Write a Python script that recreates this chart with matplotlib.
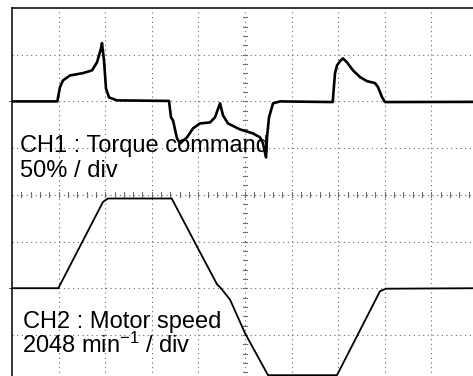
import matplotlib
matplotlib.use("Agg")
import matplotlib.pyplot as plt
import numpy as np

plt.rcParams["font.family"] = ["Liberation Sans", "DejaVu Sans"]
plt.rcParams["mathtext.fontset"] = "custom"
plt.rcParams["mathtext.rm"] = "Liberation Sans"
plt.rcParams["mathtext.it"] = "Liberation Sans"

# scope screen: 10 x 8 divisions
N_XDIV = 10
N_YDIV = 8
CH1_ZERO_DIV = 6.0      # torque zero level (divisions from bottom)
CH2_ZERO_DIV = 2.0      # speed zero level
CH1_SCALE = 50.0        # % per div
CH2_SCALE = 2048.0      # min^-1 per div

# CH1 torque command trace (time in div, torque in %)
torque_t = [0.0, 0.972, 1.030, 1.094, 1.245, 1.524, 1.717, 1.824, 1.910, 1.931,
            1.974, 2.017, 2.082, 2.253, 3.369, 3.412, 3.455, 3.541, 3.605, 3.755,
            3.884, 4.034, 4.249, 4.356, 4.464, 4.528, 4.635, 4.893, 5.172, 5.322,
            5.386, 5.451, 5.472, 5.515, 5.601, 5.751, 6.882, 6.931, 6.974, 7.039,
            7.103, 7.189, 7.318, 7.468, 7.618, 7.790, 7.854, 7.940, 8.004, 10.0]
torque_pct = [0.0, 0.0, 15.3, 22.5, 27.8, 30.3, 33.2, 41.8, 56.7, 62.4,
              43.9, 13.9, 4.3, 1.1, 0.5, -17.1, -20.3, -39.6, -45.0, -38.5,
              -28.9, -23.6, -22.5, -17.1, -2.1, -15.0, -23.6, -30.0, -34.3, -38.5,
              -45.0, -60.0, -38.5, -17.1, -2.1, 0.0, -0.7, 30.0, 38.5, 43.1,
              46.0, 41.8, 33.2, 26.0, 21.7, 19.6, 15.3, 4.6, -0.7, -0.5]

# CH2 motor speed trace (time in div, speed in min^-1)
speed_t = [0.0, 0.994, 1.953, 2.060, 3.427, 4.034, 4.399, 4.464, 4.678, 5.0,
           5.494, 6.974, 7.897, 8.026, 10.0]
speed_rpm = [0.0, 0.0, 3785.0, 3934.0, 3934.0, 1579.0, 175.0, 44.0, -496.0, -1973.0,
             -3815.0, -3815.0, -132.0, -22.0, 0.0]

fig = plt.figure(figsize=(4.73, 3.76), dpi=100)
ax = fig.add_axes([12 / 473, -0.0149, 466 / 473, 0.99362])
ax.set_xlim(0, N_XDIV)
ax.set_ylim(0, N_YDIV)
ax.set_xticks([])
ax.set_yticks([])
for side in ("right", "bottom"):
    ax.spines[side].set_visible(False)
for side in ("top", "left"):
    ax.spines[side].set_linewidth(1.1)
    ax.spines[side].set_color("black")

# graticule
grid_kw = dict(color="#6a6a6a", linewidth=0.8, linestyle=(0, (1, 3.2)), zorder=1)
for gx in range(1, N_XDIV):
    ax.axvline(gx, **grid_kw)
for gy in range(1, N_YDIV):
    ax.axhline(gy, **grid_kw)

# minor ticks on the centre crosshair
cx, cy = N_XDIV / 2, N_YDIV / 2
tick_half = 0.05
for v in np.arange(0.2, N_YDIV, 0.2):
    ax.plot([cx - tick_half, cx + tick_half], [v, v], color="#707070", lw=0.8, zorder=1)
for v in np.arange(0.2, N_XDIV, 0.2):
    ax.plot([v, v], [cy - tick_half, cy + tick_half], color="#707070", lw=0.8, zorder=1)

# channel zero markers left of the screen
for level in (CH1_ZERO_DIV, CH2_ZERO_DIV):
    ax.plot([-0.06, -0.03], [level, level], color="#555555", lw=0.7, clip_on=False)

torque_div = CH1_ZERO_DIV + np.array(torque_pct) / CH1_SCALE
speed_div = CH2_ZERO_DIV + np.array(speed_rpm) / CH2_SCALE

ax.plot(speed_t, speed_div, color="black", lw=1.3, zorder=3, solid_joinstyle="round")
ax.plot(torque_t, torque_div, color="black", lw=1.9, zorder=3, solid_joinstyle="round")

text_kw = dict(fontsize=17, va="baseline", ha="left", color="black", zorder=4)
ax.text(0.172, 4.923, "CH1 : Torque command", **text_kw)
ax.text(0.172, 4.388, "50% / div", **text_kw)
ax.text(0.23, 1.148, "CH2 : Motor speed", **text_kw)
ax.text(0.208, 0.612, "2048 min$^{-1}$ / div", **text_kw)

fig.savefig("out.png", dpi=100)
